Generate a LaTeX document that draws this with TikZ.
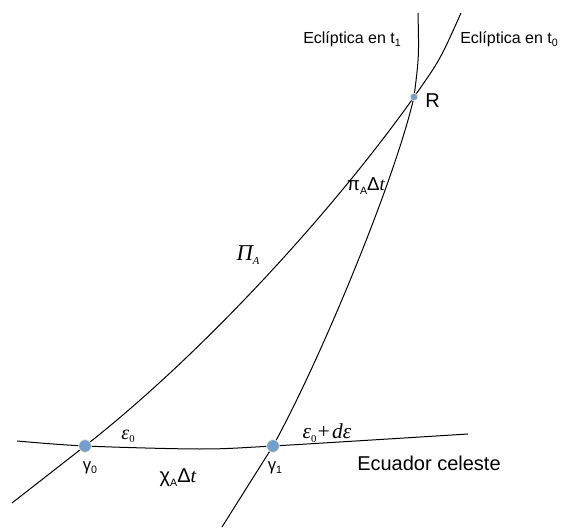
\documentclass[tikz,border=0pt]{standalone}
\usepackage{fontspec}
\setmainfont{Liberation Sans}
\newfontfamily\serifit{Liberation Serif}[ItalicFont=* Italic]
\usepackage{tikz}
\usetikzlibrary{positioning}
\definecolor{dotblue}{HTML}{729FCF}
\definecolor{dotrim}{HTML}{F2F2C8}
\newcommand{\lowidx}[1]{\raisebox{-0.35ex}{\footnotesize #1}}

\begin{document}
\begin{tikzpicture}[
  x=0.75pt,y=-0.75pt,
  orbit/.style={draw=black,line width=0.75pt},
  bigdot/.style={circle,fill=dotblue,draw=dotrim,line width=0.5pt,
    inner sep=0pt,minimum size=9.5pt},
  smalldot/.style={bigdot,minimum size=5.8pt},
  lbltext/.style={font=\fontsize{12}{14}\selectfont,inner sep=0pt},
  anglelbl/.style={font=\fontsize{15}{17}\selectfont\serifit\itshape,inner sep=0pt}
]
  \useasboundingbox (0,0) rectangle (565,528);

  % intersection points
  \coordinate (g0) at (85,446);
  \coordinate (g1) at (273,446);
  \coordinate (r) at (414,97);

  % equator and the two ecliptics
  \draw[orbit] plot[smooth] coordinates {(17,441) (g0) (200,449) (g1) (468,434)};
  \draw[orbit] (12,503) -- (g0) .. controls (200,356) and (330,215) .. (r)
    .. controls (440,60) .. (461,13);
  \draw[orbit] (222,527) -- (g1) .. controls (320,361) and (395,180) .. (r)
    .. controls (419,57) .. (418,13);

  \node[bigdot] (gam0) at (g0) {};
  \node[bigdot] (gam1) at (g1) {};
  \node[smalldot] (rpt) at (r) {};

  \node[lbltext,font=\fontsize{15}{17}\selectfont,anchor=west] (rlab) at (425,101) {R};
  \node[lbltext,font=\fontsize{12.5}{14}\selectfont] (gl0) at (90,468) {γ\lowidx{0}};
  \node[lbltext,font=\fontsize{12.5}{14}\selectfont] (gl1) at (275,468) {γ\lowidx{1}};

  \node[lbltext,anchor=west] (ecl1) at (303,39) {Eclíptica en t\lowidx{1}};
  \node[lbltext,anchor=west] (ecl0) at (460,39) {Eclíptica en t\lowidx{0}};
  \node[lbltext,font=\fontsize{15}{17}\selectfont,anchor=west] (ecuador) at (357,463) {Ecuador celeste};

  \node[lbltext,font=\fontsize{15}{17}\selectfont] (chi) at (178,478)
    {χ\lowidx{A}Δ{\serifit\itshape t}};
  \node[lbltext,font=\fontsize{14}{16}\selectfont] (pi) at (366,186)
    {π\lowidx{A}Δ{\serifit\itshape t}};
  \node[anglelbl,font=\fontsize{17}{19}\selectfont\serifit\itshape] (bigpi) at (248,255)
    {Π\lowidx{A}};
  \node[anglelbl] (eps0) at (128,436) {ε{\upshape\lowidx{0}}};
  \node[anglelbl,font=\fontsize{16}{18}\selectfont\serifit\itshape] (eps1) at (327,433)
    {ε{\upshape\lowidx{0}}+\kern1pt dε};
\end{tikzpicture}
\end{document}
